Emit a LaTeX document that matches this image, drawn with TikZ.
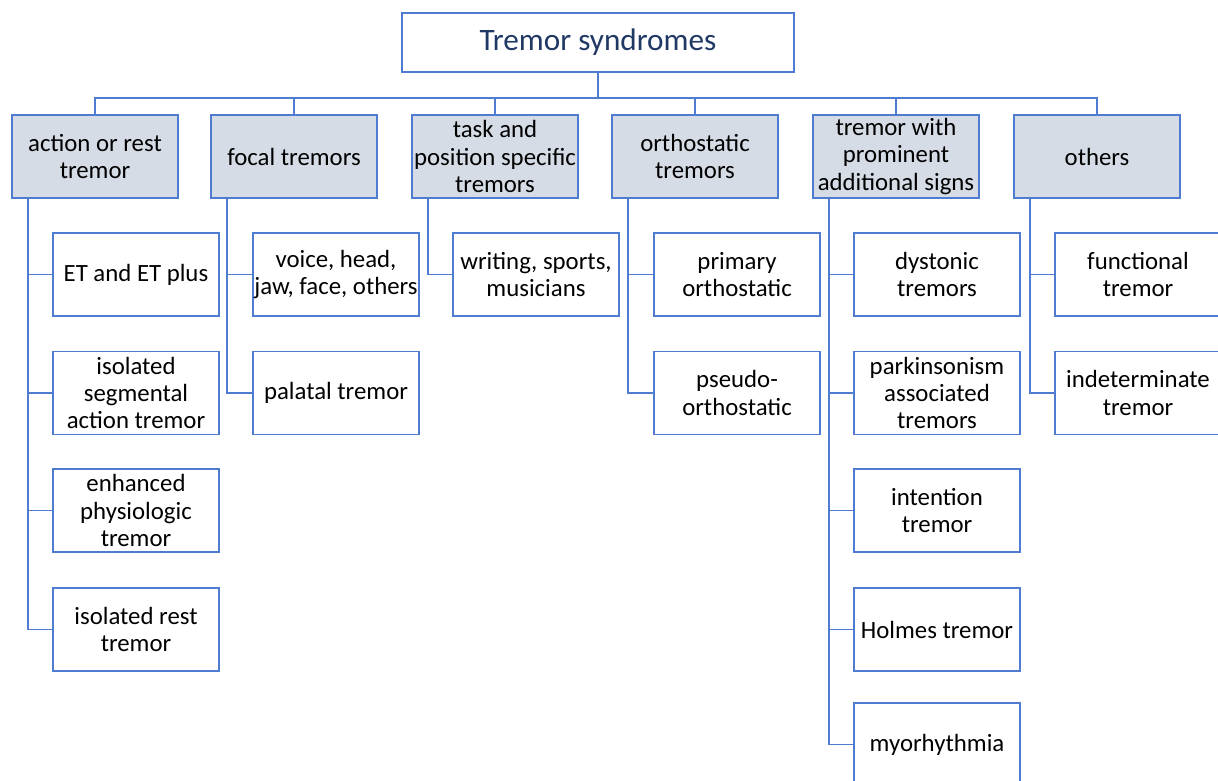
\documentclass[tikz,border=0pt]{standalone}
\usepackage{fontspec}
\setmainfont{Carlito}
\definecolor{boxline}{HTML}{4F7BD0}
\definecolor{catfill}{HTML}{D6DCE5}
\definecolor{titleblue}{HTML}{1F3864}
\begin{document}
\begin{tikzpicture}[x=0.5pt,y=-0.5pt,
    every node/.style={font=\fontsize{12.4}{13.7}\selectfont, align=center, inner sep=0pt},
    topbox/.style={draw=boxline, line width=0.8pt, minimum width=196pt, minimum height=29.5pt, text=titleblue, font=\fontsize{15.6}{18}\selectfont},
    catbox/.style={draw=boxline, line width=0.8pt, fill=catfill, minimum width=83pt, minimum height=41.5pt},
    itembox/.style={draw=boxline, line width=0.8pt, fill=white, minimum width=83pt, minimum height=41.5pt},
    link/.style={draw=boxline, line width=0.8pt}]
  \useasboundingbox (0,0) rectangle (1218,780);
  % top
  \node[topbox] (title) at (598,42.5) {Tremor syndromes};
  \coordinate (bus) at (598,98);
  % categories
  \node[catbox] (cat1) at (95,156.5) {action or rest\\tremor};
  \node[catbox] (cat2) at (294,156.5) {focal tremors};
  \node[catbox] (cat3) at (495,156.5) {task and\\position specific\\tremors};
  \node[catbox] (cat4) at (695,156.5) {orthostatic\\tremors};
  \node[catbox] (cat5) at (896,156.5) {tremor with\\prominent\\additional signs};
  \node[catbox] (cat6) at (1097,156.5) {others};
  \draw[link] (title.south) -- (bus);
  \draw[link] (cat1.north) |- (bus);
  \draw[link] (cat2.north) |- (bus);
  \draw[link] (cat3.north) |- (bus);
  \draw[link] (cat4.north) |- (bus);
  \draw[link] (cat5.north) |- (bus);
  \draw[link] (cat6.north) |- (bus);
  % action or rest
  \node[itembox] (a1) at (136,274.5) {ET and ET plus};
  \node[itembox] (a2) at (136,393) {isolated\\segmental\\action tremor};
  \node[itembox] (a3) at (136,510.5) {enhanced\\physiologic\\tremor};
  \node[itembox] (a4) at (136,629.5) {isolated rest\\tremor};
  \draw[link] ([xshift=8.5pt]cat1.south west) |- (a4.west);
  \draw[link] ([xshift=8.5pt]cat1.south west |- a1.west) -- (a1.west);
  \draw[link] ([xshift=8.5pt]cat1.south west |- a2.west) -- (a2.west);
  \draw[link] ([xshift=8.5pt]cat1.south west |- a3.west) -- (a3.west);
  % focal
  \node[itembox] (f1) at (336,274.5) {voice, head,\\jaw, face, others};
  \node[itembox] (f2) at (336,393) {palatal tremor};
  \draw[link] ([xshift=8.5pt]cat2.south west) |- (f2.west);
  \draw[link] ([xshift=8.5pt]cat2.south west |- f1.west) -- (f1.west);
  % task specific
  \node[itembox] (t1) at (536,274.5) {writing, sports,\\musicians};
  \draw[link] ([xshift=8.5pt]cat3.south west) |- (t1.west);
  % orthostatic
  \node[itembox] (o1) at (737,274.5) {primary\\orthostatic};
  \node[itembox] (o2) at (737,393) {pseudo-\\orthostatic};
  \draw[link] ([xshift=8.5pt]cat4.south west) |- (o2.west);
  \draw[link] ([xshift=8.5pt]cat4.south west |- o1.west) -- (o1.west);
  % additional signs
  \node[itembox] (p1) at (937,274.5) {dystonic\\tremors};
  \node[itembox] (p2) at (937,393) {parkinsonism\\associated\\tremors};
  \node[itembox] (p3) at (937,510.5) {intention\\tremor};
  \node[itembox] (p4) at (937,629.5) {Holmes tremor};
  \node[itembox] (p5) at (937,744.5) {myorhythmia};
  \draw[link] ([xshift=8.5pt]cat5.south west) |- (p5.west);
  \draw[link] ([xshift=8.5pt]cat5.south west |- p1.west) -- (p1.west);
  \draw[link] ([xshift=8.5pt]cat5.south west |- p2.west) -- (p2.west);
  \draw[link] ([xshift=8.5pt]cat5.south west |- p3.west) -- (p3.west);
  \draw[link] ([xshift=8.5pt]cat5.south west |- p4.west) -- (p4.west);
  % others
  \node[itembox] (x1) at (1138,274.5) {functional\\tremor};
  \node[itembox] (x2) at (1138,393) {indeterminate\\tremor};
  \draw[link] ([xshift=8.5pt]cat6.south west) |- (x2.west);
  \draw[link] ([xshift=8.5pt]cat6.south west |- x1.west) -- (x1.west);
\end{tikzpicture}
\end{document}
